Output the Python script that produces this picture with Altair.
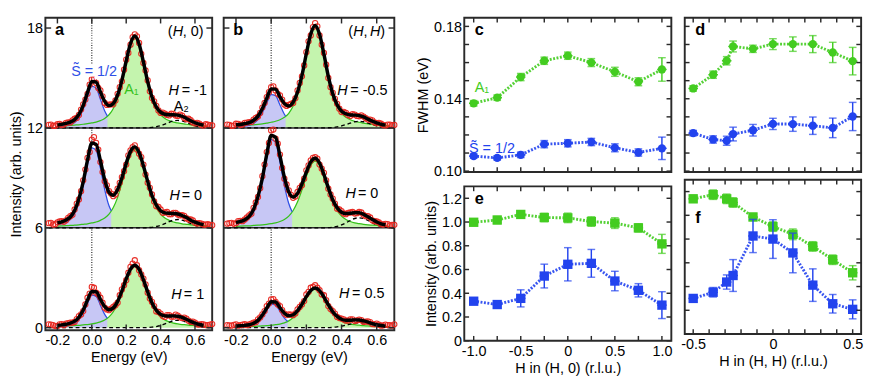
import altair as alt
import pandas as pd

# ---------------- data ----------------
ENERGY = [-0.25, -0.225, -0.2, -0.175, -0.15, -0.125, -0.1, -0.075, -0.05, -0.025,
          0.0, 0.025, 0.05, 0.075, 0.1, 0.125, 0.15, 0.175, 0.2, 0.225,
          0.25, 0.275, 0.3, 0.325, 0.35, 0.375, 0.4, 0.425, 0.45, 0.475,
          0.5, 0.525, 0.55, 0.575, 0.6, 0.625, 0.65, 0.675, 0.7]
ENERGY_MID = [-0.2375, -0.2125, -0.1875, -0.1625, -0.1375, -0.1125, -0.0875, -0.0625, -0.0375, -0.0125,
              0.0125, 0.0375, 0.0625, 0.0875, 0.1125, 0.1375, 0.1625, 0.1875, 0.2125, 0.2375,
              0.2625, 0.2875, 0.3125, 0.3375, 0.3625, 0.3875, 0.4125, 0.4375, 0.4625, 0.4875,
              0.5125, 0.5375, 0.5625, 0.5875, 0.6125, 0.6375, 0.6625, 0.6875]

# panel a, H = -1 (offset 12)
A1_DATA = [.18, .12, .22, .17, .30, .33, .55, .78, 1.42, 2.05,
           2.92, 2.70, 2.25, 1.50, 1.40, 1.42, 2.05, 2.80, 4.10, 5.00,
           5.62, 5.10, 3.90, 2.85, 1.80, 1.32, .90, .86, .75, .83,
           .72, .74, .52, .46, .27, .26, .14, .20, .15]
A1_DATA_MID = [.20, .13, .24, .20, .33, .45, .60, 1.10, 1.70, 2.60,
               2.95, 2.40, 1.90, 1.38, 1.42, 1.65, 2.45, 3.50, 4.50, 5.45,
               5.50, 4.45, 3.45, 2.20, 1.60, 1.05, .92, .78, .85, .74,
               .80, .60, .55, .33, .30, .17, .22, .16]
A1_FIT = [.13, .16, .18, .21, .27, .35, .50, .81, 1.36, 2.13,
          2.79, 2.75, 2.16, 1.59, 1.34, 1.47, 1.98, 2.86, 4.02, 5.07,
          5.52, 5.04, 3.97, 2.78, 1.86, 1.27, .95, .82, .79, .79,
          .77, .70, .57, .43, .31, .23, .17, .13, .11]
A1_GREEN = [.08, .09, .10, .11, .13, .15, .17, .19, .22, .26,
            .30, .35, .44, .57, .79, 1.17, 1.80, 2.73, 3.92, 4.99,
            5.45, 4.99, 3.92, 2.73, 1.80, 1.17, .79, .57, .44, .35,
            .30, .26, .22, .19, .17, .15, .13, .11, .10]
A1_BLUE = [.08, .10, .14, .20, .33, .62, 1.14, 1.87, 2.49, 2.40, 1.72, 1.02]
A1_CROSS = [0.091, 0.71]
A1_A2 = [0, 0, 0, 0, 0, 0, 0, 0, 0, 0,
         0, 0, 0, 0, 0, 0, 0, 0, 0, 0,
         0, 0, .00, .01, .03, .07, .13, .23, .33, .42,
         .45, .42, .33, .23, .13, .07, .03, .01, .00]

# panel a, H = 0 (offset 6)
A2_DATA = [.28, .20, .33, .40, .45, .70, 1.10, 1.70, 2.85, 4.20,
           5.30, 5.10, 3.95, 2.80, 2.20, 1.90, 2.35, 3.05, 3.80, 4.65,
           4.95, 4.45, 3.80, 2.70, 2.00, 1.30, 1.10, .92, .82, .90,
           .80, .76, .58, .50, .30, .28, .20, .22, .16]
A2_DATA_MID = [.30, .22, .38, .36, .60, .78, 1.45, 2.20, 3.50, 4.55,
               5.45, 4.70, 3.35, 2.55, 2.05, 2.00, 2.70, 3.40, 4.35, 4.85,
               4.70, 4.25, 3.20, 2.40, 1.58, 1.25, .90, .95, .82, .90,
               .75, .72, .50, .44, .26, .25, .19, .18]
A2_FIT = [.21, .25, .30, .36, .47, .65, 1.04, 1.75, 2.76, 4.06,
          5.09, 5.01, 4.03, 2.89, 2.14, 1.96, 2.30, 3.00, 3.87, 4.59,
          4.86, 4.52, 3.73, 2.79, 1.94, 1.37, 1.03, .90, .87, .86,
          .83, .74, .62, .46, .34, .25, .19, .14, .12]
A2_GREEN = [.08, .09, .10, .11, .13, .14, .16, .18, .21, .24,
            .29, .35, .45, .59, .82, 1.22, 1.83, 2.68, 3.62, 4.39,
            4.70, 4.39, 3.62, 2.68, 1.83, 1.22, .82, .59, .45, .35,
            .29, .24, .21, .18, .16, .14, .13, .11, .10]
A2_BLUE = [.20, .25, .34, .51, .88, 1.57, 2.55, 3.82, 4.80, 4.66, 3.58, 2.30, 1.32]
A2_CROSS = [0.113, 1.02]
A2_A2 = [0, 0, 0, 0, 0, 0, 0, 0, 0, 0,
         0, 0, 0, 0, 0, 0, 0, 0, 0, 0,
         0, 0, .00, .01, .03, .08, .15, .25, .37, .46,
         .50, .46, .37, .25, .15, .08, .03, .01, .00]

# panel a, H = 1 (offset 0)
A3_DATA = [.20, .15, .10, .22, .25, .30, .35, .70, 1.00, 1.80,
           2.45, 2.10, 1.80, 1.20, 1.05, 1.25, 1.50, 2.30, 2.85, 3.65,
           4.05, 3.45, 2.95, 2.10, 1.55, .98, .85, .65, .75, .66,
           .72, .58, .55, .35, .30, .18, .20, .15, .22]
A3_DATA_MID = [.18, .10, .20, .15, .28, .30, .52, .80, 1.40, 2.05,
               2.40, 2.00, 1.50, 1.10, 1.15, 1.35, 1.95, 2.55, 3.30, 3.85,
               3.75, 3.20, 2.60, 1.75, 1.30, .95, .70, .76, .66, .78,
               .62, .60, .42, .36, .20, .22, .16, .18]
A3_FIT = [.11, .12, .14, .17, .21, .27, .39, .63, 1.06, 1.66,
          2.18, 2.16, 1.70, 1.26, 1.08, 1.19, 1.58, 2.21, 2.93, 3.52,
          3.75, 3.50, 2.89, 2.15, 1.50, 1.05, .80, .71, .70, .71,
          .69, .62, .51, .38, .27, .19, .14, .11, .09]
A3_GREEN = [.07, .07, .08, .09, .10, .11, .13, .14, .17, .19,
            .23, .28, .35, .46, .65, .96, 1.44, 2.11, 2.85, 3.46,
            3.70, 3.46, 2.85, 2.11, 1.44, .96, .65, .46, .35, .28,
            .23, .19, .17, .14, .13, .11, .10, .09, .08]
A3_BLUE = [.06, .08, .11, .16, .26, .49, .89, 1.47, 1.95, 1.88, 1.35, .80]
A3_CROSS = [0.090, 0.57]
A3_A2 = [0, 0, 0, 0, 0, 0, 0, 0, 0, 0,
         0, 0, 0, 0, 0, 0, 0, 0, 0, 0,
         0, 0, .00, .01, .03, .07, .13, .23, .33, .42,
         .45, .42, .33, .23, .13, .07, .03, .01, .00]

# panel b, H = -0.5 (offset 12)
B1_DATA = [.20, .12, .25, .18, .30, .35, .50, .68, 1.22, 1.85,
           2.45, 2.25, 1.95, 1.40, 1.38, 1.50, 2.25, 3.10, 4.55, 5.55,
           6.30, 5.55, 4.50, 3.00, 2.10, 1.45, .95, .90, .72, .80,
           .70, .68, .50, .45, .28, .25, .15, .20, .18]
B1_DATA_MID = [.18, .14, .24, .20, .32, .36, .60, .90, 1.50, 2.15,
               2.50, 2.05, 1.70, 1.32, 1.45, 1.78, 2.70, 3.75, 5.20, 6.05,
               6.10, 5.00, 3.80, 2.45, 1.75, 1.15, .96, .78, .82, .72,
               .75, .58, .50, .33, .30, .17, .20, .16]
B1_FIT = [.13, .15, .19, .21, .26, .32, .46, .71, 1.16, 1.79,
          2.34, 2.33, 1.87, 1.46, 1.32, 1.55, 2.16, 3.15, 4.47, 5.64,
          6.15, 5.62, 4.43, 3.09, 2.06, 1.39, 1.01, .85, .78, .77,
          .74, .66, .53, .41, .31, .22, .17, .14, .12]
B1_GREEN = [.09, .10, .12, .13, .15, .16, .19, .21, .24, .29,
            .34, .40, .49, .64, .88, 1.31, 2.01, 3.05, 4.39, 5.58,
            6.10, 5.58, 4.39, 3.05, 2.01, 1.31, .88, .64, .49, .40,
            .34, .29, .24, .21, .19, .16, .15, .13, .12]
B1_BLUE = [.07, .08, .11, .16, .27, .50, .92, 1.50, 2.00, 1.93, 1.38, .82]
B1_CROSS = [0.082, 0.71]
B1_A2 = [0, 0, 0, 0, 0, 0, 0, 0, 0, 0,
         0, 0, 0, 0, 0, 0, 0, 0, 0, 0,
         0, 0, 0, .01, .02, .06, .12, .20, .29, .37,
         .40, .37, .29, .20, .12, .06, .02, .01, .00]

# panel b, H = 0 (offset 6)
B2_DATA = [.25, .30, .28, .42, .50, .75, 1.20, 1.85, 3.10, 4.55,
           5.85, 5.35, 4.40, 2.95, 2.25, 1.80, 2.15, 2.55, 3.45, 4.05,
           4.25, 3.80, 3.30, 2.35, 1.75, 1.15, 1.00, .82, .92, .86,
           .95, .78, .70, .45, .38, .22, .24, .15, .18]
B2_DATA_MID = [.28, .24, .40, .40, .62, .85, 1.52, 2.38, 3.80, 5.10,
               5.90, 5.05, 3.60, 2.60, 1.98, 1.88, 2.40, 2.95, 3.75, 4.20,
               4.15, 3.55, 2.85, 2.00, 1.45, 1.10, .86, .90, .95, .88,
               .92, .70, .62, .40, .32, .20, .22, .17]
B2_FIT = [.21, .25, .31, .38, .49, .69, 1.11, 1.89, 2.99, 4.42,
          5.54, 5.43, 4.32, 3.04, 2.16, 1.85, 2.07, 2.64, 3.35, 3.96,
          4.18, 3.89, 3.20, 2.40, 1.69, 1.21, .94, .86, .88, .91,
          .90, .81, .66, .50, .35, .24, .18, .14, .12]
B2_GREEN = [.07, .08, .09, .10, .11, .12, .14, .16, .18, .21,
            .25, .30, .38, .50, .70, 1.04, 1.56, 2.28, 3.08, 3.74,
            4.00, 3.74, 3.08, 2.28, 1.56, 1.04, .70, .50, .38, .30,
            .25, .21, .18, .16, .14, .12, .11, .10, .09]
B2_BLUE = [.22, .28, .38, .57, .97, 1.73, 2.81, 4.21, 5.29, 5.13, 3.94, 2.54, 1.46]
B2_CROSS = [0.119, 0.96]
B2_A2 = [0, 0, 0, 0, 0, 0, 0, 0, 0, 0,
         0, 0, 0, 0, 0, 0, 0, 0, 0, 0,
         0, 0, .00, .01, .04, .09, .17, .30, .44, .56,
         .60, .56, .44, .30, .17, .09, .04, .01, .00]

# panel b, H = 0.5 (offset 0)
B3_DATA = [.15, .12, .20, .15, .22, .20, .30, .50, .80, 1.30,
           1.70, 1.55, 1.30, .85, .80, .75, 1.10, 1.40, 2.00, 2.40,
           2.55, 2.25, 1.95, 1.30, 1.00, .65, .55, .42, .50, .40,
           .48, .35, .38, .22, .25, .12, .18, .15, .20]
B3_DATA_MID = [.14, .17, .12, .18, .15, .25, .33, .62, 1.00, 1.45,
               1.72, 1.40, 1.05, .76, .78, .86, 1.25, 1.60, 2.15, 2.45,
               2.40, 2.00, 1.65, 1.12, .85, .58, .50, .43, .50, .44,
               .46, .36, .33, .20, .18, .14, .16, .12]
B3_FIT = [.07, .09, .10, .12, .14, .18, .27, .44, .76, 1.18,
          1.56, 1.54, 1.20, .87, .72, .78, 1.02, 1.41, 1.87, 2.24,
          2.39, 2.23, 1.84, 1.37, .96, .68, .51, .45, .45, .47,
          .46, .41, .34, .25, .18, .13, .09, .08, .06]
B3_GREEN = [.04, .05, .05, .06, .06, .07, .08, .09, .11, .12,
            .15, .18, .22, .29, .41, .61, .92, 1.34, 1.81, 2.20,
            2.35, 2.20, 1.81, 1.34, .92, .61, .41, .29, .22, .18,
            .15, .12, .11, .09, .08, .07, .06, .06, .05]
B3_BLUE = [.05, .06, .08, .11, .19, .35, .65, 1.06, 1.41, 1.36, .98, .58]
B3_CROSS = [0.094, 0.38]
B3_A2 = [0, 0, 0, 0, 0, 0, 0, 0, 0, 0,
         0, 0, 0, 0, 0, 0, 0, 0, 0, 0,
         0, 0, 0, 0, .02, .05, .09, .15, .22, .28,
         .30, .28, .22, .15, .09, .05, .02, .01, .00]

OFFSETS = [12, 6, 0]

# panels c-f
H_H0 = [-1.0, -0.75, -0.5, -0.25, 0.0, 0.25, 0.5, 0.75, 1.0]
H_HH = [-0.5, -0.375, -0.29, -0.25, -0.125, 0.0, 0.125, 0.25, 0.375, 0.5]
XERR_H0 = [0.05, 0.05, 0.05, 0.05, 0.05, 0.05, 0.05, 0.05, 0.05]
XERR_HH = [0.03, 0.03, 0.03, 0.03, 0.03, 0.03, 0.03, 0.03, 0.03, 0.03]

C_A1 = [0.1375, 0.1406, 0.1520, 0.1610, 0.1638, 0.1600, 0.1549, 0.1494, 0.1562]
C_A1_ERR = [0.0015, 0.0015, 0.0020, 0.0020, 0.0020, 0.0022, 0.0025, 0.0022, 0.0065]
C_S = [0.1083, 0.1073, 0.1090, 0.1149, 0.1154, 0.1161, 0.1129, 0.1103, 0.1126]
C_S_ERR = [0.0012, 0.0012, 0.0015, 0.0020, 0.0020, 0.0020, 0.0022, 0.0020, 0.0062]

D_A1 = [0.1457, 0.1533, 0.1610, 0.1689, 0.1676, 0.1702, 0.1702, 0.1702, 0.1656, 0.1608]
D_A1_ERR = [0.0015, 0.0020, 0.0023, 0.0030, 0.0020, 0.0030, 0.0040, 0.0047, 0.0056, 0.0076]
D_S = [0.1210, 0.1175, 0.1168, 0.1205, 0.1226, 0.1261, 0.1260, 0.1251, 0.1239, 0.1302]
D_S_ERR = [0.0015, 0.0020, 0.0025, 0.0038, 0.0032, 0.0031, 0.0040, 0.0048, 0.0054, 0.0078]

E_A1 = [0.998, 1.017, 1.064, 1.038, 1.035, 1.004, 0.991, 0.951, 0.816]
E_A1_ERR = [0.025, 0.03, 0.03, 0.035, 0.04, 0.04, 0.045, 0.035, 0.08]
E_S = [0.333, 0.305, 0.357, 0.545, 0.644, 0.652, 0.503, 0.425, 0.300]
E_S_ERR = [0.02, 0.02, 0.072, 0.10, 0.14, 0.117, 0.082, 0.056, 0.113]

F_A1 = [1.139, 1.174, 1.139, 1.108, 0.986, 0.905, 0.840, 0.738, 0.626, 0.516]
F_A1_ERR = [0.03, 0.04, 0.04, 0.04, 0.03, 0.04, 0.045, 0.04, 0.04, 0.06]
F_S = [0.300, 0.352, 0.438, 0.493, 0.826, 0.800, 0.683, 0.412, 0.255, 0.208]
F_S_ERR = [0.02, 0.04, 0.06, 0.134, 0.14, 0.163, 0.167, 0.137, 0.078, 0.08]

# tick values
TICKS_E = [-0.2, 0.0, 0.2, 0.4, 0.6]
TICKS_I = [0, 6, 12, 18]
TICKS_H0 = [-1.0, -0.75, -0.5, -0.25, 0.0, 0.25, 0.5, 0.75, 1.0]
TICKS_HH = [-0.5, -0.4, -0.3, -0.2, -0.1, 0.0, 0.1, 0.2, 0.3, 0.4, 0.5]
TICKS_FWHM = [0.10, 0.11, 0.12, 0.13, 0.14, 0.15, 0.16, 0.17, 0.18]
TICKS_INT = [0.0, 0.2, 0.4, 0.6, 0.8, 1.0, 1.2]

# ---------------- styles ----------------
FONT = "Liberation Sans"
FRAME = "#2a2a2a"
GREEN_FILL = "#c4f4ae"
BLUE_FILL = "#c7c7f5"
GREEN_LINE = "#35c21a"
BLUE_LINE = "#2f4fe6"
RED = "#e8261f"
PT_GREEN = "#43cc20"
PT_BLUE = "#2243ee"

W_A, W_B, H_AB = 174, 178, 326
W_C, W_D, H_C = 216, 184, 161

MINUS = "replace(format(datum.value, '.1f'), '\u2212', '-')"
ZERO_LBL = "datum.value == 0 ? '0' : " + MINUS

XS_E = alt.Scale(domain=[-0.27, 0.7], nice=False, zero=False)
YS_AB = alt.Scale(domain=[-0.15, 18.62], nice=False, zero=False)
XS_H0 = alt.Scale(domain=[-1.1, 1.1], nice=False, zero=False)
XS_HH = alt.Scale(domain=[-0.553, 0.553], nice=False, zero=False)
YS_FWHM = alt.Scale(domain=[0.0995, 0.1848], nice=False, zero=False)
YS_INT = alt.Scale(domain=[0.0, 1.3], nice=False, zero=False)

AX = dict(ticks=False, domain=False, grid=False, labelPadding=3, titlePadding=3)
E_AXIS = alt.Axis(values=TICKS_E, labelExpr=MINUS, title="Energy (eV)", **AX)
I_AXIS = alt.Axis(values=TICKS_I, format="d", title="Intensity (arb. units)", **AX)
FWHM_AXIS = alt.Axis(values=[0.10, 0.14, 0.18], format=".2f", title="FWHM (eV)", **AX)
INT_AXIS = alt.Axis(values=TICKS_INT, labelExpr=ZERO_LBL, title="Intensity (arb. units)", **AX)
H0_AXIS = alt.Axis(values=[-1.0, -0.5, 0.0, 0.5, 1.0], labelExpr=ZERO_LBL,
                   title="H in (H, 0) (r.l.u.)", **AX)
HH_AXIS = alt.Axis(values=[-0.5, 0.0, 0.5], labelExpr=ZERO_LBL,
                   title="H in (H, H) (r.l.u.)", **AX)

ONE = pd.DataFrame({"k": [0]})


def tick_layers(xvals, yvals, xs, ys, xax, yax, w, h, L):
    xd = pd.DataFrame({"t": xvals})
    yd = pd.DataFrame({"t": yvals})
    kw = dict(color=FRAME, strokeWidth=1.5)
    xe = alt.X("t:Q", scale=xs, axis=xax)
    ye = alt.Y("t:Q", scale=ys, axis=yax)
    return [
        alt.Chart(xd).mark_rule(**kw).encode(x=xe, y=alt.value(h), y2=alt.value(h - L)),
        alt.Chart(xd).mark_rule(**kw).encode(x=xe, y=alt.value(0), y2=alt.value(L)),
        alt.Chart(yd).mark_rule(**kw).encode(y=ye, x=alt.value(0), x2=alt.value(L)),
        alt.Chart(yd).mark_rule(**kw).encode(y=ye, x=alt.value(w), x2=alt.value(w - L)),
    ]


def letter(ch, px, py):
    return alt.Chart(ONE).mark_text(text=ch, font=FONT, fontSize=17, fontWeight="bold",
                                    align="left", baseline="middle", color="black").encode(
        x=alt.value(px), y=alt.value(py))


def spectra_frames(specs):
    pts, fit, grn, blu, a2l = [], [], [], [], []
    for name, off, data, mid, fitv, green, blue, cross, a2 in specs:
        for e, v in zip(ENERGY + ENERGY_MID, data + mid):
            pts.append({"s": name, "E": e, "I": off + v})
        for e, v in zip(ENERGY[2:37], fitv[2:37]):
            fit.append({"s": name, "E": e, "I": off + v})
        for e, v in zip(ENERGY[2:38], green[2:38]):
            grn.append({"s": name, "E": e, "I": off + v, "B": off})
        be = ENERGY[2:2 + len(blue)] + [cross[0]]
        bv = blue + [cross[1]]
        for e, v in zip(be, bv):
            blu.append({"s": name, "E": e, "I": off + v, "B": off})
        for e, v in zip(ENERGY, a2):
            a2l.append({"s": name, "E": e, "I": off + v})
    return [pd.DataFrame(r) for r in (pts, fit, grn, blu, a2l)]


def spectra_panel(specs, texts, w, show_y, ch):
    pts, fit, grn, blu, a2l = spectra_frames(specs)
    yax = I_AXIS if show_y else None

    def X(f="E"):
        return alt.X(f + ":Q", scale=XS_E, axis=E_AXIS)

    def Y(f="I"):
        return alt.Y(f + ":Q", scale=YS_AB, axis=yax)

    layers = [
        alt.Chart(pd.DataFrame({"E": [0.0]})).mark_rule(color="#222", strokeWidth=1.2,
                                                          strokeDash=[1, 1.6]).encode(x=X()),
        alt.Chart(grn).mark_area(color=GREEN_FILL, interpolate="monotone").encode(
            x=X(), y=Y(), y2=alt.Y2("B:Q"), detail="s:N"),
        alt.Chart(blu).mark_area(color=BLUE_FILL, interpolate="monotone").encode(
            x=X(), y=Y(), y2=alt.Y2("B:Q"), detail="s:N"),
        alt.Chart(pd.DataFrame({"I": [6, 12]})).mark_rule(color=FRAME, strokeWidth=1.5).encode(y=Y()),
        alt.Chart(grn).mark_line(color=GREEN_LINE, strokeWidth=1.3, interpolate="monotone").encode(
            x=X(), y=Y(), detail="s:N"),
        alt.Chart(blu).mark_line(color=BLUE_LINE, strokeWidth=1.3, interpolate="monotone").encode(
            x=X(), y=Y(), detail="s:N"),
        alt.Chart(a2l).mark_line(color="black", strokeWidth=1.4, strokeDash=[4, 3],
                                 interpolate="monotone").encode(x=X(), y=Y(), detail="s:N"),
        alt.Chart(pts).mark_point(shape="circle", filled=False, color=RED, size=30,
                                  strokeWidth=1.1, opacity=0.95).encode(x=X(), y=Y()),
        alt.Chart(fit).mark_line(color="black", strokeWidth=3.6, interpolate="monotone").encode(
            x=X(), y=Y(), detail="s:N"),
    ]
    for t in texts:
        df = pd.DataFrame({"E": [t["E"]], "I": [t["I"]], "t": [t["t"]]})
        if t.get("halo"):
            layers.append(alt.Chart(df).mark_text(font=FONT, fontSize=15, align=t["align"],
                                                  baseline="middle", color="white", stroke="white",
                                                  strokeWidth=7).encode(x=X(), y=Y(), text="t:N"))
        layers.append(alt.Chart(df).mark_text(font=FONT, fontSize=t.get("size", 15), align=t["align"],
                                              baseline="middle", color=t.get("color", "black"),
                                              fontStyle=t.get("style", "normal")).encode(
            x=X(), y=Y(), text="t:N"))
    layers += tick_layers(TICKS_E, TICKS_I, XS_E, YS_AB, E_AXIS, yax, w, H_AB, 6)
    layers.append(letter(ch, 10, 13))
    return alt.layer(*layers).properties(width=w, height=H_AB)


def series_panel(hv, series, xs, ys, xax, yax, w, h, shape, size, xt, yt, texts, ch, chy):
    def X(f):
        return alt.X(f + ":Q", scale=xs, axis=xax)

    def Y(f):
        return alt.Y(f + ":Q", scale=ys, axis=yax)

    layers = []
    for vals, errs, xerr, col in series:
        df = pd.DataFrame({"H": hv, "v": vals, "e": errs, "xe": xerr})
        df["lo"] = df["v"] - df["e"]
        df["hi"] = df["v"] + df["e"]
        df["xl"] = df["H"] - df["xe"]
        df["xh"] = df["H"] + df["xe"]
        layers += [
            alt.Chart(df).mark_line(color=col, strokeWidth=3, strokeDash=[2, 1.6], opacity=0.9).encode(
                x=X("H"), y=Y("v")),
            alt.Chart(df).mark_rule(color=col, strokeWidth=1.5).encode(x=X("H"), y=Y("lo"), y2="hi"),
            alt.Chart(df).mark_tick(color=col, orient="horizontal", size=8, thickness=1.5).encode(
                x=X("H"), y=Y("lo")),
            alt.Chart(df).mark_tick(color=col, orient="horizontal", size=8, thickness=1.5).encode(
                x=X("H"), y=Y("hi")),
            alt.Chart(df).mark_rule(color=col, strokeWidth=1.5).encode(x=X("xl"), x2="xh", y=Y("v")),
            alt.Chart(df).mark_point(shape=shape, filled=True, size=size, color=col, opacity=1).encode(
                x=X("H"), y=Y("v")),
        ]
    for t in texts:
        df = pd.DataFrame({"H": [t["H"]], "v": [t["v"]], "t": [t["t"]]})
        layers.append(alt.Chart(df).mark_text(font=FONT, fontSize=15, align="left", baseline="middle",
                                              color=t["color"]).encode(x=X("H"), y=Y("v"), text="t:N"))
    layers += tick_layers(xt, yt, xs, ys, xax, yax, w, h, 5)
    layers.append(letter(ch, 11, chy))
    return alt.layer(*layers).properties(width=w, height=h)


# ---------------- panels ----------------
S_LABEL = "S\u0303 = 1/2"

texts_a = [
    {"E": -0.12, "I": 15.42, "t": S_LABEL, "align": "left", "color": BLUE_LINE, "halo": True},
    {"E": 0.23, "I": 14.3, "t": "A\u2081", "align": "center", "color": GREEN_LINE},
    {"E": 0.52, "I": 13.3, "t": "A\u2082", "align": "center"},
    {"E": 0.507, "I": 14.29, "t": "H", "align": "right", "style": "italic"},
    {"E": 0.523, "I": 14.29, "t": "= -1", "align": "left"},
    {"E": 0.512, "I": 7.95, "t": "H", "align": "right", "style": "italic"},
    {"E": 0.523, "I": 7.95, "t": "=  0", "align": "left"},
    {"E": 0.523, "I": 2.03, "t": "H", "align": "right", "style": "italic"},
    {"E": 0.535, "I": 2.03, "t": "= 1", "align": "left"},
    {"E": 0.47, "I": 17.83, "t": "(", "align": "right"},
    {"E": 0.47, "I": 17.83, "t": "H", "align": "left", "style": "italic"},
    {"E": 0.529, "I": 17.83, "t": ", 0)", "align": "left"},
]
texts_b = [
    {"E": 0.434, "I": 14.29, "t": "H", "align": "right", "style": "italic"},
    {"E": 0.45, "I": 14.29, "t": "= -0.5", "align": "left"},
    {"E": 0.482, "I": 8.1, "t": "H", "align": "right", "style": "italic"},
    {"E": 0.493, "I": 8.1, "t": "=  0", "align": "left"},
    {"E": 0.445, "I": 2.05, "t": "H", "align": "right", "style": "italic"},
    {"E": 0.46, "I": 2.05, "t": "= 0.5", "align": "left"},
    {"E": 0.466, "I": 17.83, "t": "(", "align": "right"},
    {"E": 0.466, "I": 17.83, "t": "H", "align": "left", "style": "italic"},
    {"E": 0.525, "I": 17.83, "t": ",", "align": "left"},
    {"E": 0.562, "I": 17.83, "t": "H", "align": "left", "style": "italic"},
    {"E": 0.62, "I": 17.83, "t": ")", "align": "left"},
]

specs_a = [
    ("m1", OFFSETS[0], A1_DATA, A1_DATA_MID, A1_FIT, A1_GREEN, A1_BLUE, A1_CROSS, A1_A2),
    ("z0", OFFSETS[1], A2_DATA, A2_DATA_MID, A2_FIT, A2_GREEN, A2_BLUE, A2_CROSS, A2_A2),
    ("p1", OFFSETS[2], A3_DATA, A3_DATA_MID, A3_FIT, A3_GREEN, A3_BLUE, A3_CROSS, A3_A2),
]
specs_b = [
    ("m1", OFFSETS[0], B1_DATA, B1_DATA_MID, B1_FIT, B1_GREEN, B1_BLUE, B1_CROSS, B1_A2),
    ("z0", OFFSETS[1], B2_DATA, B2_DATA_MID, B2_FIT, B2_GREEN, B2_BLUE, B2_CROSS, B2_A2),
    ("p1", OFFSETS[2], B3_DATA, B3_DATA_MID, B3_FIT, B3_GREEN, B3_BLUE, B3_CROSS, B3_A2),
]

panel_a = spectra_panel(specs_a, texts_a, W_A, True, "a")
panel_b = spectra_panel(specs_b, texts_b, W_B, False, "b")

texts_c = [
    {"H": -0.99, "v": 0.1464, "t": "A\u2081", "color": PT_GREEN},
    {"H": -1.05, "v": 0.1125, "t": S_LABEL, "color": PT_BLUE},
]

panel_c = series_panel(H_H0, [(C_A1, C_A1_ERR, XERR_H0, PT_GREEN), (C_S, C_S_ERR, XERR_H0, PT_BLUE)],
                       XS_H0, YS_FWHM, None, FWHM_AXIS, W_C, H_C, "circle", 75,
                       TICKS_H0, TICKS_FWHM, texts_c, "c", 13)
panel_d = series_panel(H_HH, [(D_A1, D_A1_ERR, XERR_HH, PT_GREEN), (D_S, D_S_ERR, XERR_HH, PT_BLUE)],
                       XS_HH, YS_FWHM, None, None, W_D, H_C, "circle", 75,
                       TICKS_HH, TICKS_FWHM, [], "d", 13)
panel_e = series_panel(H_H0, [(E_A1, E_A1_ERR, XERR_H0, PT_GREEN), (E_S, E_S_ERR, XERR_H0, PT_BLUE)],
                       XS_H0, YS_INT, H0_AXIS, INT_AXIS, W_C, H_C, "square", 95,
                       TICKS_H0, TICKS_INT, [], "e", 13)
panel_f = series_panel(H_HH, [(F_A1, F_A1_ERR, XERR_HH, PT_GREEN), (F_S, F_S_ERR, XERR_HH, PT_BLUE)],
                       XS_HH, YS_INT, HH_AXIS, None, W_D, H_C, "square", 95,
                       TICKS_HH, TICKS_INT, [], "f", 40)

left = alt.hconcat(panel_a, panel_b, spacing=3)
right = alt.hconcat(alt.vconcat(panel_c, panel_e, spacing=4),
                    alt.vconcat(panel_d, panel_f, spacing=4), spacing=6)

chart = (
    alt.hconcat(left, right, spacing=15)
    .properties(padding={"left": 0, "top": 0, "right": 0, "bottom": 0})
    .configure_view(stroke=FRAME, strokeWidth=2)
    .configure_axis(labelFont=FONT, titleFont=FONT, labelFontSize=15, titleFontSize=15,
                    labelColor="black", titleColor="black", titleFontWeight="normal")
    .configure_text(font=FONT)
)

chart.save("out.html", embed_options={"renderer": "svg", "actions": False})
